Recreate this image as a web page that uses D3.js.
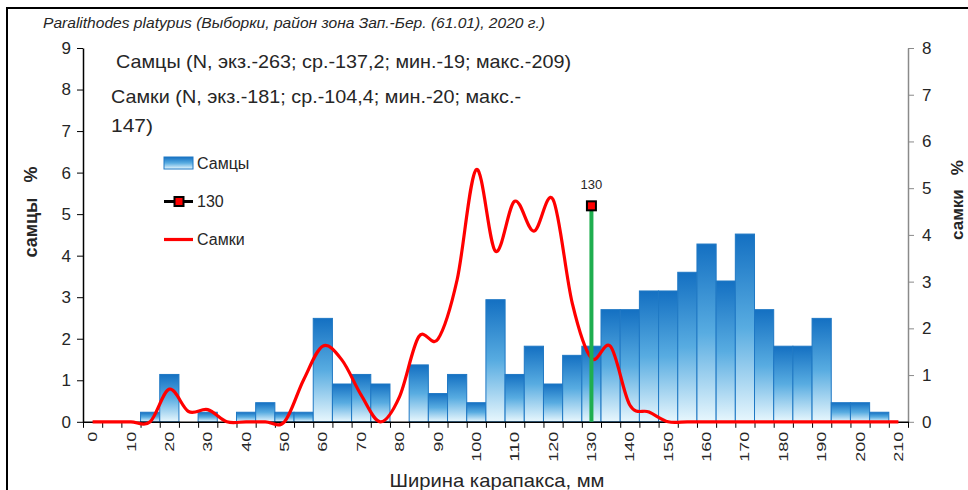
<!DOCTYPE html>
<html>
<head>
<meta charset="utf-8">
<script src="https://cdn.jsdelivr.net/npm/d3@7"></script>
<style>
  body { margin: 0; background: #fff; }
  text { font-family: "Liberation Sans", "Noto Sans", sans-serif; fill: #262626; }
</style>
</head>
<body>
<svg id="chart" width="968" height="490"></svg>
<script>
// ---------- DATA ----------
const categories = d3.range(0, 215, 5); // 0..210 by 5 mm
const tickLabels = d3.range(0, 220, 10);
const males = [0, 0, 0, 0.23, 1.14, 0, 0.23, 0, 0.23, 0.46, 0.23, 0.23, 2.49, 0.91, 1.14, 0.91, 0, 1.37, 0.68, 1.14, 0.46, 2.94, 1.14, 1.82, 0.91, 1.6, 1.82, 2.7, 2.7, 3.15, 3.15, 3.6, 4.28, 3.39, 4.52, 2.7, 1.82, 1.82, 2.49, 0.46, 0.46, 0.23, 0];
const females = [0, 0, 0, 0, 0.70, 0.22, 0.26, 0, 0, 0, 0, 0.9, 1.62, 1.32, 0.57, 0, 0.54, 1.82, 1.77, 3.04, 5.40, 3.65, 4.72, 4.08, 4.76, 2.54, 1.36, 1.61, 0.36, 0.21, 0, 0, 0, 0, 0, 0, 0, 0, 0, 0, 0, 0, 0];
const markerCategory = 130;
const markerValue = 5.2;      // on the left (самцы) axis
const leftTicks = d3.range(0, 10);
const rightTicks = d3.range(0, 9);
const titleText = "Paralithodes platypus (Выборки, район зона Зап.-Бер. (61.01), 2020 г.)";
const maleNote = "Самцы (N, экз.-263; ср.-137,2; мин.-19; макс.-209)";
const femaleNote1 = "Самки (N, экз.-181; ср.-104,4; мин.-20; макс.-";
const femaleNote2 = "147)";

// ---------- LAYOUT ----------
const svg = d3.select("#chart");
const X0 = 83, X1 = 908, Y0 = 421.8, YT = 48;

const x = d3.scaleBand().domain(categories).range([X0, X1]).padding(0);
const xEdge = d3.scaleLinear().domain([-2.5, 212.5]).range([X0, X1]);
const yL = d3.scaleLinear().domain([0, 9]).range([Y0, YT]);
const yR = d3.scaleLinear().domain([0, 8]).range([Y0, YT]);

// frame
svg.append("path").attr("d", "M7,490 V8 H968").attr("fill", "none").attr("stroke", "#000").attr("stroke-width", 2);

// gradient
const defs = svg.append("defs");
const grad = defs.append("linearGradient").attr("id", "barGrad").attr("x1", 0).attr("y1", 0).attr("x2", 0).attr("y2", 1);
grad.append("stop").attr("offset", "0%").attr("stop-color", "#1470c2");
grad.append("stop").attr("offset", "50%").attr("stop-color", "#58ace1");
grad.append("stop").attr("offset", "100%").attr("stop-color", "#e8f7fd");

// bars
svg.append("g").selectAll("rect")
  .data(categories.map((c, i) => ({ c, v: males[i] })).filter(d => d.v > 0))
  .join("rect")
  .attr("x", d => x(d.c))
  .attr("width", x.bandwidth())
  .attr("y", d => yL(d.v))
  .attr("height", d => Y0 - yL(d.v))
  .attr("fill", "url(#barGrad)")
  .attr("stroke", "#1f78c4")
  .attr("stroke-width", 1);

// left axis
const gL = svg.append("g").attr("transform", `translate(${X0},0)`)
  .call(d3.axisLeft(yL).tickValues(leftTicks).tickSize(6).tickSizeOuter(0).tickPadding(6));
gL.select(".domain").attr("stroke", "#000").attr("stroke-width", 1.5);
gL.selectAll(".tick line").attr("stroke", "#000");
gL.selectAll("text").style("font-size", "17px").attr("fill", "#262626");

// right axis
const gR = svg.append("g").attr("transform", `translate(${X1},0)`)
  .call(d3.axisRight(yR).tickValues(rightTicks).tickSize(6).tickSizeOuter(0).tickPadding(8));
gR.select(".domain").attr("stroke", "#8a8a8a").attr("stroke-width", 1.5);
gR.selectAll(".tick line").attr("stroke", "#8a8a8a");
gR.selectAll("text").style("font-size", "17px").attr("fill", "#262626");

// x axis: boundary tick marks
const gXe = svg.append("g").attr("transform", `translate(0,${Y0})`)
  .call(d3.axisBottom(xEdge).tickValues(d3.range(-2.5, 215, 5)).tickSize(6).tickSizeOuter(0).tickFormat(""));
gXe.select(".domain").attr("stroke", "#000").attr("stroke-width", 1.5);
gXe.selectAll(".tick line").attr("stroke", "#000");

// x axis labels
const gX = svg.append("g").attr("transform", `translate(0,${Y0})`)
  .call(d3.axisBottom(x).tickValues(tickLabels).tickSize(0));
gX.select(".domain").remove();
gX.selectAll("text")
  .attr("transform", "rotate(-90)")
  .attr("text-anchor", "end")
  .attr("x", -10).attr("y", 0).attr("dy", "0.35em")
  .style("font-size", "13px")
  .attr("textLength", d => String(d).length * 10)
  .attr("lengthAdjust", "spacingAndGlyphs")
  .attr("fill", "#262626");

// females smooth line (right axis)
const line = d3.line()
  .x((d, i) => x(categories[i]) + x.bandwidth() / 2)
  .y(d => yR(d))
  .curve(d3.curveCatmullRom.alpha(0));
svg.append("path").datum(females)
  .attr("d", line)
  .attr("fill", "none").attr("stroke", "#ff0000").attr("stroke-width", 3.2)
  .attr("stroke-linejoin", "round");

// 130 marker with green drop line
const mx = x(markerCategory) + x.bandwidth() / 2;
svg.append("line").attr("x1", mx).attr("x2", mx).attr("y1", Y0).attr("y2", yL(markerValue))
  .attr("stroke", "#1fae4f").attr("stroke-width", 4);
svg.append("rect").attr("x", mx - 4.5).attr("y", yL(markerValue) - 4.5).attr("width", 9).attr("height", 9)
  .attr("fill", "#ff0000").attr("stroke", "#000").attr("stroke-width", 2);
svg.append("text").attr("x", mx).attr("y", yL(markerValue) - 17).attr("text-anchor", "middle")
  .style("font-size", "13px").text(String(markerCategory));

// legend
const lg = svg.append("g");
lg.append("rect").attr("x", 164).attr("y", 157).attr("width", 29).attr("height", 12)
  .attr("fill", "url(#barGrad)").attr("stroke", "#1f78c4");
lg.append("text").attr("x", 197).attr("y", 163).attr("dy", "0.35em").style("font-size", "16px").text("Самцы");
lg.append("line").attr("x1", 164).attr("x2", 193).attr("y1", 201.5).attr("y2", 201.5).attr("stroke", "#000").attr("stroke-width", 3);
lg.append("rect").attr("x", 174.5).attr("y", 197).attr("width", 9).attr("height", 9)
  .attr("fill", "#ff0000").attr("stroke", "#000").attr("stroke-width", 2);
lg.append("text").attr("x", 197).attr("y", 201.5).attr("dy", "0.35em").style("font-size", "16px").text(String(markerCategory));
lg.append("line").attr("x1", 164).attr("x2", 193).attr("y1", 239.5).attr("y2", 239.5).attr("stroke", "#ff0000").attr("stroke-width", 3.2);
lg.append("text").attr("x", 197).attr("y", 239.5).attr("dy", "0.35em").style("font-size", "16px").text("Самки");

// title
svg.append("text").attr("x", 43).attr("y", 28).style("font-size", "15px").style("font-style", "italic")
  .attr("textLength", 502).attr("lengthAdjust", "spacingAndGlyphs").text(titleText);

// notes
svg.append("text").attr("x", 116).attr("y", 68).style("font-size", "19px")
  .attr("textLength", 455).attr("lengthAdjust", "spacingAndGlyphs").text(maleNote);
svg.append("text").attr("x", 111).attr("y", 103).style("font-size", "19px")
  .attr("textLength", 410).attr("lengthAdjust", "spacingAndGlyphs").text(femaleNote1);
svg.append("text").attr("x", 111).attr("y", 132).style("font-size", "19px")
  .attr("textLength", 42).attr("lengthAdjust", "spacingAndGlyphs").text(femaleNote2);

// axis titles
svg.append("text").attr("transform", "translate(37,212) rotate(-90)").attr("text-anchor", "middle")
  .style("font-size", "18px").style("font-weight", "bold").attr("fill", "#000")
  .attr("xml:space", "preserve").text("самцы   %");
svg.append("text").attr("transform", "translate(963,200) rotate(-90)").attr("text-anchor", "middle")
  .style("font-size", "17px").style("font-weight", "bold").attr("fill", "#000")
  .attr("xml:space", "preserve").text("самки   %");
svg.append("text").attr("x", 497).attr("y", 487).attr("text-anchor", "middle")
  .style("font-size", "19px").attr("textLength", 215).attr("lengthAdjust", "spacingAndGlyphs")
  .text("Ширина карапакса, мм");
</script>
</body>
</html>
